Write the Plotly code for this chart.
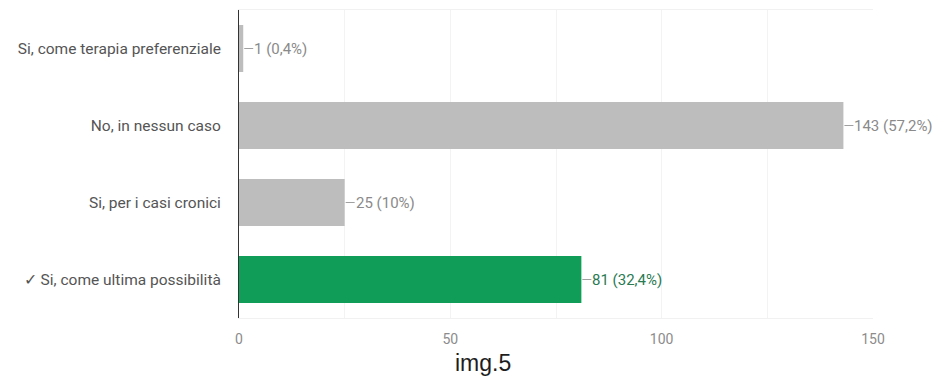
import plotly.graph_objects as go

# Survey answers and counts
categories = [
    "Si, come terapia preferenziale",
    "No, in nessun caso",
    "Si, per i casi cronici",
    "✓ Si, come ultima possibilità",
]
counts = [1, 143, 25, 81]
percent_labels = ["0,4%", "57,2%", "10%", "32,4%"]
is_correct = [False, False, False, True]

x_ticks = [0, 50, 100, 150]
caption = "img.5"

GREY = "#bdbdbd"
GREEN = "#0f9d58"
bar_colors = [GREEN if c else GREY for c in is_correct]
label_colors = ["#2a7a52" if c else "#8a8a8a" for c in is_correct]

fig = go.Figure(
    go.Bar(
        x=counts,
        y=categories,
        orientation="h",
        marker=dict(color=bar_colors, line=dict(width=0)),
        width=0.61,
        hoverinfo="skip",
    )
)

# Value labels with a short leader line at the end of each bar
for cat, n, pct, col in zip(categories, counts, percent_labels, label_colors):
    fig.add_shape(
        type="line",
        xref="x", yref="y",
        xsizemode="pixel", xanchor=n,
        x0=1, x1=10,
        y0=cat, y1=cat,
        line=dict(color="#a0a0a0", width=1),
    )
    fig.add_annotation(
        x=n, y=cat, xref="x", yref="y",
        text=f"{n} ({pct})",
        showarrow=False,
        xanchor="left", yanchor="middle",
        xshift=9,
        font=dict(family="Roboto", size=15, color=col),
    )

fig.add_annotation(
    x=0.385, y=-0.145, xref="paper", yref="paper",
    text=caption, showarrow=False,
    xanchor="center", yanchor="middle",
    font=dict(family="Liberation Sans", size=23, color="#1e1e1e"),
)

fig.update_layout(
    width=950,
    height=379,
    margin=dict(l=239, r=77, t=10, b=61),
    paper_bgcolor="white",
    plot_bgcolor="white",
    showlegend=False,
    bargap=0.39,
    xaxis=dict(
        range=[0, 150],
        tickvals=x_ticks,
        ticktext=[str(v) for v in x_ticks],
        showgrid=True,
        gridcolor="#f3f3f3",
        gridwidth=1,
        minor=dict(dtick=25, showgrid=True, gridcolor="#f3f3f3"),
        zeroline=False,
        showline=True,
        linecolor="#f1f1f1",
        mirror=True,
        ticks="",
        ticklabelstandoff=8,
        tickfont=dict(family="Roboto", size=14, color="#8c8c8c"),
        fixedrange=True,
    ),
    yaxis=dict(
        categoryorder="array",
        categoryarray=categories,
        autorange="reversed",
        showgrid=False,
        zeroline=False,
        showline=True,
        linecolor="#333333",
        linewidth=1,
        ticks="",
        ticklabelstandoff=14,
        tickfont=dict(family="Roboto", size=15.5, color="#555555"),
        fixedrange=True,
    ),
)

fig.write_html("out.html")
